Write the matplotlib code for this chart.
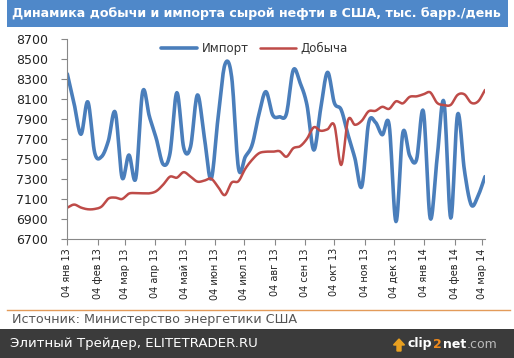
import numpy as np
import matplotlib
matplotlib.use("Agg")
import matplotlib.pyplot as plt
import matplotlib.dates as mdates
from matplotlib.patches import Rectangle, FancyArrow
import datetime as dt

# ---- data ----
start_date = dt.date(2013, 1, 4)
n_weeks = 62
dates = [start_date + dt.timedelta(days=7 * i) for i in range(n_weeks)]

imports = [8350, 8050, 7745, 8070, 7560, 7520, 7680, 7965, 7310, 7537,
           7303, 8170, 7920, 7700, 7444, 7555, 8162, 7610, 7620, 8139,
           7720, 7297, 7900, 8440, 8320, 7404, 7520, 7640, 7950, 8172,
           7938, 7920, 7950, 8389, 8260, 8038, 7587, 8000, 8366, 8060,
           7990, 7738, 7504, 7220, 7855, 7865, 7740, 7840, 6870, 7760,
           7530, 7490, 7975, 6903, 7500, 8071, 6905, 7945, 7380, 7036,
           7130, 7320]

production = [7009, 7040, 7010, 6993, 6996, 7020, 7100, 7110, 7096, 7150,
              7155, 7153, 7153, 7175, 7240, 7320, 7310, 7365, 7320, 7270,
              7280, 7300, 7220, 7135, 7260, 7275, 7400, 7490, 7555, 7570,
              7570, 7575, 7520, 7605, 7625, 7700, 7815, 7780, 7795, 7835,
              7437, 7888, 7840, 7880, 7975, 7980, 8020, 8000, 8075, 8055,
              8120, 8125, 8145, 8165, 8060, 8038, 8040, 8140, 8145, 8060,
              8075, 8189]

tick_dates = [dt.date(2013 + (m // 12), m % 12 + 1, 4) for m in range(15)]
tick_labels = ["04 янв 13", "04 фев 13", "04 мар 13", "04 апр 13", "04 май 13",
               "04 июн 13", "04 июл 13", "04 авг 13", "04 сен 13", "04 окт 13",
               "04 ноя 13", "04 дек 13", "04 янв 14", "04 фев 14", "04 мар 14"]
y_ticks = list(range(6700, 8701, 200))

series_names = ["Импорт", "Добыча"]
title = "Динамика добычи и импорта сырой нефти в США, тыс. барр./день"
source = "Источник: Министерство энергетики США"
footer = "Элитный Трейдер, ELITETRADER.RU"


def smooth(x, y, n=12):
    """Catmull-Rom rendering of a smoothed line (like Excel's smoothed lines)."""
    x = np.asarray(x, float)
    y = np.asarray(y, float)
    px = np.concatenate([[2 * x[0] - x[1]], x, [2 * x[-1] - x[-2]]])
    py = np.concatenate([[2 * y[0] - y[1]], y, [2 * y[-1] - y[-2]]])
    t = np.linspace(0, 1, n, endpoint=False)
    xs, ys = [], []
    for i in range(1, len(px) - 2):
        for arr, out in ((px, xs), (py, ys)):
            p0, p1, p2, p3 = arr[i - 1], arr[i], arr[i + 1], arr[i + 2]
            out.append(0.5 * ((2 * p1) + (-p0 + p2) * t +
                              (2 * p0 - 5 * p1 + 4 * p2 - p3) * t ** 2 +
                              (-p0 + 3 * p1 - 3 * p2 + p3) * t ** 3))
    xs = np.concatenate(xs + [[x[-1]]])
    ys = np.concatenate(ys + [[y[-1]]])
    return xs, ys


W, H = 514, 358
fig = plt.figure(figsize=(W / 100, H / 100), dpi=100)
fig.patch.set_facecolor("white")

# title bar
fig.patches.append(Rectangle((7 / W, 1 - 27 / H), (508 - 7) / W, 27 / H,
                             transform=fig.transFigure, facecolor="#4f88c9",
                             edgecolor="none", zorder=0))
fig.text(12 / W, 1 - 14 / H, title, color="white", fontsize=9.1,
         fontweight="bold", va="center", ha="left", family="DejaVu Sans")

ax = fig.add_axes([67.3 / W, 1 - 238.5 / H, (485 - 67.3) / W, (238.5 - 39) / H])

xnum = mdates.date2num(dates)
ix, iy = smooth(xnum, imports)
px_, py_ = smooth(xnum, production)
ax.plot(ix, iy, color="#4a7ebb", lw=2.6, solid_capstyle="round", label=series_names[0])
ax.plot(px_, py_, color="#be4b48", lw=1.8, solid_capstyle="round", label=series_names[1])

ax.set_ylim(6700, 8700)
ax.set_yticks(y_ticks)
ax.set_yticklabels([str(v) for v in y_ticks], fontsize=9, color="#222222")
ax.set_xlim(xnum[0], xnum[-1])
ax.set_xticks(mdates.date2num(tick_dates))
ax.set_xticklabels(tick_labels, rotation=90, fontsize=7, color="#222222")
for s in ("top", "right"):
    ax.spines[s].set_visible(False)
for s in ("left", "bottom"):
    ax.spines[s].set_color("#888888")
    ax.spines[s].set_linewidth(0.8)
ax.tick_params(axis="both", direction="out", length=4, color="#888888", width=0.8)
ax.tick_params(axis="y", pad=10)
ax.tick_params(axis="x", pad=3)
ax.set_facecolor("none")

leg = ax.legend(loc="upper left", bbox_to_anchor=(0.2, 1.04), ncol=2, frameon=False,
                fontsize=8.5, handlelength=3.0, columnspacing=1.0, handletextpad=0.4)
for t in leg.get_texts():
    t.set_color("#333333")

# separator and source
fig.add_artist(plt.Line2D([7 / W, 510 / W], [1 - 310 / H, 1 - 310 / H],
                          transform=fig.transFigure, color="#e39b5a", lw=1))
fig.text(12 / W, 1 - 320 / H, source, color="#555555", fontsize=9.2, va="center", ha="left")

# footer bar
fig.patches.append(Rectangle((0, 0), 1, (358 - 329) / H, transform=fig.transFigure,
                             facecolor="#3b3b3b", edgecolor="none", zorder=0))
fig.text(10 / W, 1 - 344 / H, footer, color="white", fontsize=9.6, va="center", ha="left")
fig.text(408 / W, 1 - 344 / H, "clip", color="white", fontsize=9, fontweight="bold",
         va="center", ha="left")
fig.text(433 / W, 1 - 344 / H, "2", color="#f08a1c", fontsize=9, fontweight="bold",
         va="center", ha="left")
fig.text(443 / W, 1 - 344 / H, "net", color="white", fontsize=9, fontweight="bold",
         va="center", ha="left")
fig.text(467 / W, 1 - 344 / H, ".com", color="#bbbbbb", fontsize=9,
         va="center", ha="left")
fig.add_artist(FancyArrow(399 / W, 1 - 351 / H, 0, 12 / H, width=4 / W, head_width=11 / W,
                          head_length=6 / H, transform=fig.transFigure,
                          color="#e8a020", length_includes_head=True))

fig.savefig("out.png", dpi=100)
